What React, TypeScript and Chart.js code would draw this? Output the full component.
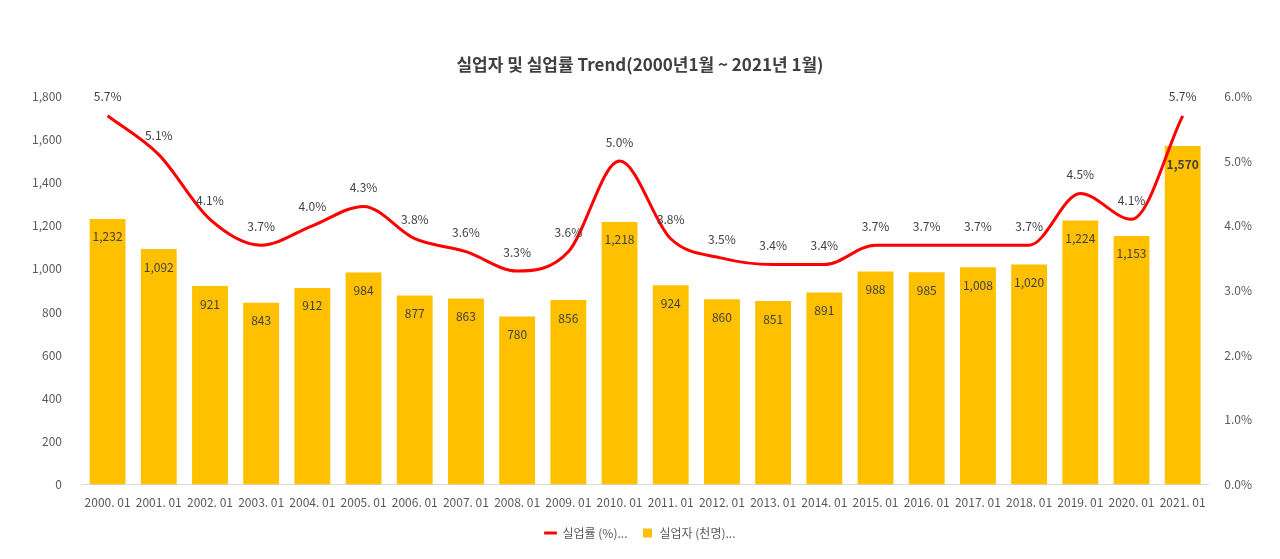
import React, { useEffect, useRef } from "react";
import { Chart, registerables } from "chart.js";
Chart.register(...registerables);

const categories = ["2000. 01","2001. 01","2002. 01","2003. 01","2004. 01","2005. 01","2006. 01","2007. 01","2008. 01","2009. 01","2010. 01","2011. 01","2012. 01","2013. 01","2014. 01","2015. 01","2016. 01","2017. 01","2018. 01","2019. 01","2020. 01","2021. 01"];
const unemployed = [1232,1092,921,843,912,984,877,863,780,856,1218,924,860,851,891,988,985,1008,1020,1224,1153,1570];
const rate = [5.7,5.1,4.1,3.7,4.0,4.3,3.8,3.6,3.3,3.6,5.0,3.8,3.5,3.4,3.4,3.7,3.7,3.7,3.7,4.5,4.1,5.7];
const leftTicks = [0,200,400,600,800,1000,1200,1400,1600,1800];
const titleText = "실업자 및 실업률 Trend(2000년1월 ~ 2021년 1월)";
const FONT = "'Noto Sans CJK KR', 'Noto Sans', sans-serif";

const labelPlugin = {
  id: "labels",
  afterDatasetsDraw(chart: any) {
    const ctx = chart.ctx;
    ctx.save();
    ctx.textAlign = "center";
    ctx.textBaseline = "middle";
    ctx.fillStyle = "#404040";
    const bars = chart.getDatasetMeta(0).data;
    bars.forEach((el: any, i: number) => {
      const last = i === unemployed.length - 1;
      ctx.font = (last ? "bold " : "") + "12px " + FONT;
      ctx.fillText(unemployed[i].toLocaleString("en-US"), el.x, el.y + 18);
    });
    const pts = chart.getDatasetMeta(1).data;
    ctx.font = "12px " + FONT;
    pts.forEach((el: any, i: number) => {
      ctx.fillText(rate[i].toFixed(1) + "%", el.x, el.y - 19);
    });
    ctx.restore();
  },
};

export default function App() {
  const ref = useRef<HTMLCanvasElement>(null);
  useEffect(() => {
    document.body.style.margin = "0";
    const chart = new Chart(ref.current!, {
      data: {
        labels: categories,
        datasets: [
          { type: "bar", label: "실업자 (천명)...", data: unemployed, backgroundColor: "#FFC000", yAxisID: "y", barPercentage: 0.7, categoryPercentage: 1, order: 2, pointStyle: "rect" } as any,
          { type: "line", label: "실업률 (%)...", data: rate, borderColor: "#FF0000", backgroundColor: "#FF0000", borderWidth: 3, pointRadius: 0, cubicInterpolationMode: "monotone", yAxisID: "y1", order: 1, pointStyle: "line" } as any,
        ],
      },
      options: {
        responsive: false,
        animation: false,
        layout: { padding: { left: 20, right: 20, top: 40, bottom: 10 } },
        plugins: {
          title: { display: true, text: titleText, color: "#404040", font: { family: FONT, size: 17, weight: "bold" }, padding: { top: 14, bottom: 22 } },
          legend: { position: "bottom", labels: { usePointStyle: true, color: "#595959", font: { family: FONT, size: 12 }, padding: 14, boxWidth: 30, boxHeight: 9 } },
          tooltip: { enabled: false },
        },
        scales: {
          x: { grid: { display: false }, border: { color: "#d9d9d9" }, ticks: { color: "#595959", font: { family: FONT, size: 12 }, maxRotation: 0 } },
          y: { min: 0, max: 1800, afterBuildTicks: (a: any) => { a.ticks = leftTicks.map(v => ({ value: v })); }, grid: { display: false }, border: { display: false }, ticks: { color: "#595959", font: { family: FONT, size: 12 }, callback: (v: any) => Number(v).toLocaleString("en-US"), padding: 12 } },
          y1: { position: "right", min: 0, max: 6, grid: { display: false }, border: { display: false }, ticks: { stepSize: 1, color: "#595959", font: { family: FONT, size: 12 }, callback: (v: any) => Number(v).toFixed(1) + "%", padding: 8 } },
        },
      },
      plugins: [labelPlugin],
    } as any);
    return () => chart.destroy();
  }, []);
  return <canvas ref={ref} width={1280} height={559} style={{ display: "block" }} />;
}
